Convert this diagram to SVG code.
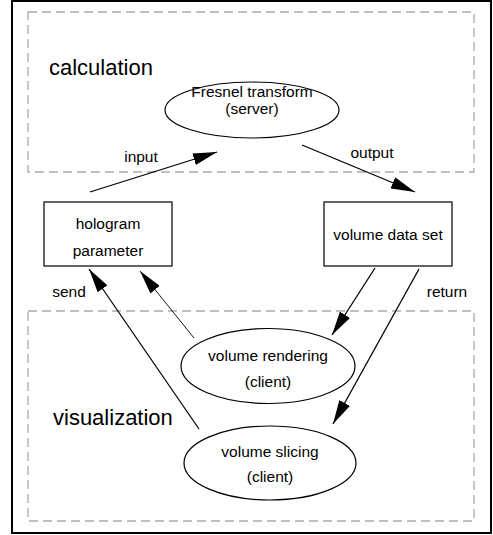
<svg xmlns="http://www.w3.org/2000/svg" width="493" height="535" viewBox="0 0 493 535">
<defs>
<style>
.frame{fill:none;stroke:#000;stroke-width:2}
.zone{fill:none;stroke:#aaa;stroke-width:1.3;stroke-dasharray:9 5}
.node{fill:#fff;stroke:#000;stroke-width:1.2}
.t{font-family:"Liberation Sans",Arial,sans-serif;font-size:15.5px;fill:#000;text-anchor:middle}
.big{font-family:"Liberation Sans",Arial,sans-serif;font-size:22px;fill:#000}
.edge{fill:none;stroke:#000;stroke-width:1.3}
.thin{stroke-width:0.9}
</style>
<marker id="ah" viewBox="0 0 24 12" refX="24" refY="6" markerWidth="24" markerHeight="12" markerUnits="userSpaceOnUse" orient="auto">
<path d="M0,0 L24,6 L0,12 Z" fill="#000"/>
</marker>
</defs>
<rect class="frame" x="12" y="1" width="479" height="532"/>
<g id="zone-calculation">
<rect class="zone" x="28" y="12" width="446" height="160"/>
<text class="big" x="49" y="75">calculation</text>
</g>
<g id="zone-visualization">
<rect class="zone" x="28" y="311" width="446" height="210"/>
<text class="big" x="53" y="425">visualization</text>
</g>
<g id="fresnel">
<ellipse class="node" cx="252" cy="110" rx="87" ry="28"/>
<text class="t" x="252" y="97">Fresnel transform</text>
<text class="t" x="252" y="114">(server)</text>
</g>
<g id="hologram">
<rect class="node" x="44" y="202" width="128" height="64"/>
<text class="t" x="108" y="229">hologram</text>
<text class="t" x="108" y="256">parameter</text>
</g>
<g id="volume-data">
<rect class="node" x="324" y="202" width="128" height="64"/>
<text class="t" x="388" y="240">volume data set</text>
</g>
<g id="volume-rendering">
<ellipse class="node" cx="268" cy="366" rx="87" ry="37.5"/>
<text class="t" x="268" y="361">volume rendering</text>
<text class="t" x="268" y="387">(client)</text>
</g>
<g id="volume-slicing">
<ellipse class="node" cx="270" cy="463" rx="86" ry="37"/>
<text class="t" x="270" y="457">volume slicing</text>
<text class="t" x="270" y="482">(client)</text>
</g>
<g id="connectors">
<line class="edge" x1="90" y1="192" x2="217" y2="152" marker-end="url(#ah)"/>
<line class="edge" x1="302" y1="145" x2="415" y2="192" marker-end="url(#ah)"/>
<line class="edge" x1="199" y1="429" x2="89" y2="269" marker-end="url(#ah)"/>
<line class="edge thin" x1="194" y1="338" x2="140" y2="271" marker-end="url(#ah)"/>
<line class="edge" x1="375" y1="268" x2="332" y2="335" marker-end="url(#ah)"/>
<line class="edge" x1="419" y1="269" x2="333" y2="424" marker-end="url(#ah)"/>
<text class="t" x="141" y="162">input</text>
<text class="t" x="372" y="158">output</text>
<text class="t" x="69" y="297">send</text>
<text class="t" x="447" y="297">return</text>
</g>
</svg>
